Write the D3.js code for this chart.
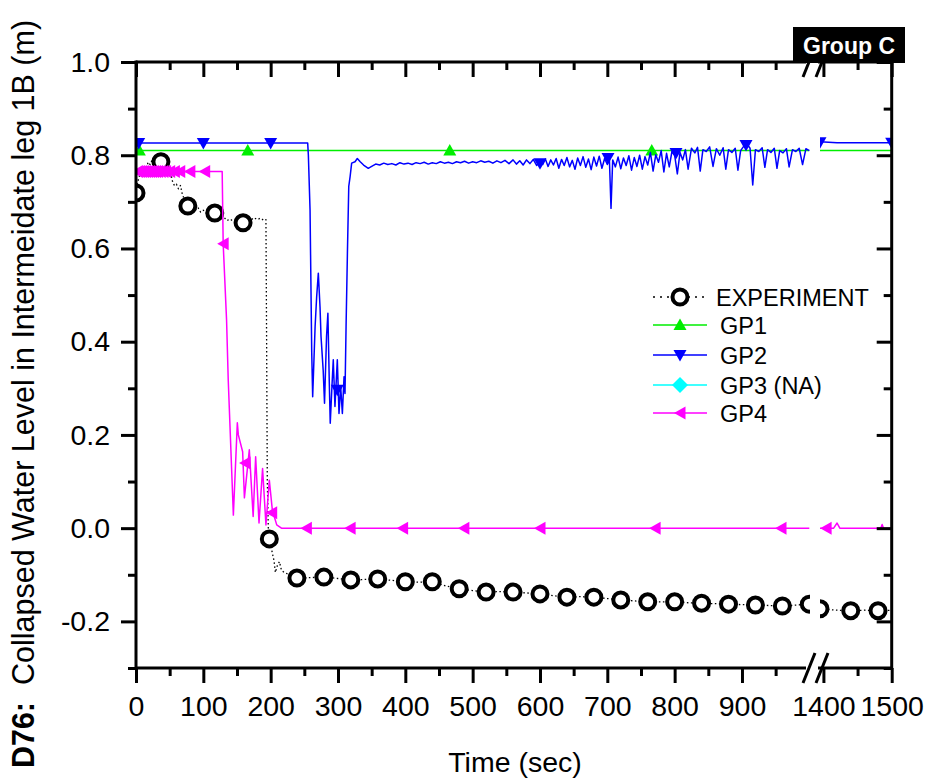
<!DOCTYPE html>
<html><head><meta charset="utf-8">
<script src="https://cdn.jsdelivr.net/npm/d3@7"></script>
<style>body{margin:0;background:#fff} svg{display:block}</style>
</head><body><svg id="c" width="932" height="784"></svg>
<script>
// ---------------- DATA ----------------
const xMajorTicks = [0,100,200,300,400,500,600,700,800,900,1400,1500];
const xMinorTicks = [50,150,250,350,450,550,650,750,850,950,1450];
const yMajorTicks = [-0.2,0.0,0.2,0.4,0.6,0.8,1.0];
const yMinorTicks = [-0.3,-0.1,0.1,0.3,0.5,0.7,0.9];
const seriesNames = ["EXPERIMENT","GP1","GP2","GP3 (NA)","GP4"];

// EXPERIMENT (dotted line + circles)
const expT = [0,3,6,9,12,15,18,21,24,27,30,33,36,39,42,45,48,51,54,57,60,63,66,69,72,76,80,84,88,92,96,100,105,110,115,120,125,130,135,140,145,150,155,160,165,170,175,180,185,190,193,194,195,196.5,198,202,205,207,210,213,216,220,225,230,240,260,280,300,320,340,360,380,400,420,440,460,480,500,520,540,560,580,600,620,640,660,680,700,720,740,760,780,800,820,840,860,880,900,920,940,960,980,1000,
  1395,1420,1440,1460,1480,1500];
const expV = [0.72,0.745,0.76,0.755,0.775,0.77,0.785,0.78,0.79,0.785,0.792,0.783,0.788,0.78,0.786,0.775,0.778,0.765,0.745,0.735,0.738,0.728,0.735,0.715,0.705,0.695,0.69,0.692,0.683,0.688,0.678,0.682,0.675,0.672,0.678,0.67,0.664,0.668,0.66,0.663,0.657,0.66,0.655,0.657,0.662,0.66,0.666,0.662,0.665,0.66,0.662,0.40,0.10,0.0,-0.023,-0.05,-0.07,-0.095,-0.08,-0.072,-0.09,-0.095,-0.098,-0.104,-0.107,-0.106,-0.105,-0.108,-0.111,-0.110,-0.109,-0.112,-0.115,-0.116,-0.115,-0.124,-0.130,-0.134,-0.137,-0.136,-0.137,-0.139,-0.141,-0.145,-0.148,-0.147,-0.148,-0.151,-0.154,-0.156,-0.158,-0.158,-0.158,-0.160,-0.161,-0.162,-0.163,-0.164,-0.165,-0.166,-0.167,-0.165,-0.163,
  -0.173,-0.176,-0.177,-0.176,-0.177,-0.176];
const expMarkT = [0,37,77,117,159,198,239,279,319,359,400,440,480,520,560,600,640,680,720,760,800,840,880,920,960,1000,1395,1440,1480];
const expMarkV = [0.719,0.786,0.691,0.676,0.655,-0.023,-0.107,-0.105,-0.111,-0.109,-0.115,-0.115,-0.130,-0.137,-0.137,-0.141,-0.148,-0.148,-0.154,-0.158,-0.158,-0.161,-0.163,-0.165,-0.167,-0.163,-0.173,-0.177,-0.177];

// GP1
const gp1T = [0,1000,1395,1500];
const gp1V = [0.81,0.81,0.81,0.81];
const gp1MarkT = [5,166,466,766];
const gp1MarkV = [0.81,0.81,0.81,0.81];

// GP2
const gp2T = [0,255,256,258.5,261,262.4,266,268.3,270.8,273.3,274.8,278,280,283,285,287,288.5,291,293,295.5,299,301.5,304,306.5,309,310.4,312,314,316,318,320.3,325.3,328.7,333,338,345,
  350,356,362,368,374,380,386,392,398,404,410,416,422,428,434,440,446,452,458,464,470,476,482,488,494,500,506,512,518,524,530,536,542,548,554,560,565,570,575,580,585,590,595,600,
  604,608,612,616,620,624,628,632,636,640,644,648,652,656,660,664,668,672,676,680,684,688,692,696,700,703,705.5,708,712,716,720,724,728,732,736,740,744,748,752,756,760,764,768,772,776,780,784,788,792,796,800,
  804,808,812,816,820,825,830,834,838,842,847,852,857,862,867,872,876,880,885,890,894,898,903,908,912,916,920,925,930,934,938,943,948,952,956,961,966,970,975,980,985,990,995,1000,
  1395,1420,1500];
const gp2V = [0.826,0.826,0.80,0.683,0.376,0.282,0.432,0.496,0.547,0.475,0.411,0.339,0.268,0.411,0.461,0.318,0.225,0.303,0.361,0.261,0.361,0.246,0.303,0.246,0.325,0.289,0.432,0.59,0.733,0.754,0.783,0.786,0.793,0.786,0.779,0.772,
  0.776,0.781,0.779,0.783,0.780,0.782,0.779,0.784,0.781,0.783,0.780,0.784,0.782,0.785,0.781,0.784,0.782,0.786,0.783,0.785,0.782,0.786,0.784,0.787,0.783,0.786,0.784,0.788,0.785,0.787,0.783,0.788,0.784,0.789,0.782,0.790,0.781,0.788,0.779,0.790,0.782,0.791,0.778,0.787,
  0.780,0.792,0.776,0.790,0.779,0.793,0.772,0.791,0.778,0.795,0.775,0.789,0.770,0.794,0.778,0.797,0.774,0.792,0.769,0.796,0.777,0.798,0.772,0.793,0.780,0.795,0.686,0.790,0.775,0.796,0.771,0.794,0.778,0.799,0.768,0.795,0.776,0.800,0.770,0.797,0.779,0.806,0.766,0.801,0.785,0.810,0.764,0.804,0.775,0.808,0.800,
  0.760,0.806,0.790,0.812,0.770,0.815,0.805,0.817,0.766,0.812,0.808,0.818,0.776,0.814,0.800,0.816,0.770,0.812,0.806,0.815,0.768,0.810,0.820,0.823,0.815,0.736,0.812,0.808,0.816,0.774,0.812,0.806,0.815,0.772,0.810,0.805,0.814,0.775,0.812,0.808,0.815,0.780,0.814,0.810,
  0.829,0.827,0.827];
const gp2MarkT = [4,100,200,299,600,701,802,906,1395,1500];
const gp2MarkV = [0.826,0.826,0.826,0.297,0.783,0.794,0.805,0.822,0.828,0.827];

// GP4
const gp4T = [0,128,129.5,134.5,137,144.6,150.5,152,158.4,161,168.3,174,177.7,182.7,188,193,198,202.5,209,216,1000,
  1395,1415,1420,1424,1484,1486,1488,1500];
const gp4V = [0.765,0.765,0.61,0.447,0.318,0.028,0.226,0.20,0.164,0.065,0.168,0.025,0.153,0.011,0.128,0.007,0.103,0.039,0.007,0.0,0.0,
  0.0,0.0,0.011,0.0,0.0,0.008,0.0,0.0];
const gp4MarkT = [2,5,8,11,14,17,20,23,26,29,32,36,40,44,50,57,65,80,102,129.5,162,201.5,253,318,396,487,600,771,958,1404];
const gp4MarkV = [0.765,0.765,0.765,0.765,0.765,0.765,0.765,0.765,0.765,0.765,0.765,0.765,0.765,0.765,0.765,0.765,0.765,0.765,0.765,0.61,0.14,0.033,0,0,0,0,0,0,0,0];

// ---------------- CHART ----------------
const FONT = '"Liberation Sans", Arial, Helvetica, sans-serif';
const svg = d3.select("#c");
const L = 136, R = 891.7, T = 62, B = 668;
const brkA = 809.3, brkB = 820;
const x = d3.scaleLinear().domain([0,1000,1395,1500]).range([L,brkA,brkB,R]);
const y = d3.scaleLinear().domain([-0.3,1.0]).range([B,T]);

const defs = svg.append("defs");
defs.append("clipPath").attr("id","seg1").append("rect").attr("x",L).attr("y",T-10).attr("width",810-L).attr("height",B-T+20);
defs.append("clipPath").attr("id","seg2").append("rect").attr("x",brkB).attr("y",T-10).attr("width",R-brkB).attr("height",B-T+20);

const zip = (a,b) => a.map((t,i)=>[t,b[i]]);
const line = d3.line().x(d=>x(d[0])).y(d=>y(d[1]));

function sym(type, cx, cy){
  switch(type){
    case "up": return `M${cx-6.5},${cy+5}L${cx+6.5},${cy+5}L${cx},${cy-6.5}Z`;
    case "down": return `M${cx-6.5},${cy-5}L${cx+6.5},${cy-5}L${cx},${cy+6.5}Z`;
    case "left": return `M${cx+5.5},${cy-6.5}L${cx+5.5},${cy+6.5}L${cx-6},${cy}Z`;
    case "diamond": return `M${cx},${cy-8}L${cx+8},${cy}L${cx},${cy+8}L${cx-8},${cy}Z`;
  }
}

const series = [
  {pts: zip(expT,expV), marks: zip(expMarkT,expMarkV), color:"#000", width:1.3, dash:"1.5,2.5", sym:"circle"},
  {pts: zip(gp1T,gp1V), marks: zip(gp1MarkT,gp1MarkV), color:"#00ee00", width:1.4, sym:"up"},
  {pts: zip(gp2T,gp2V), marks: zip(gp2MarkT,gp2MarkV), color:"#0000ff", width:1.5, sym:"down"},
  {pts: zip(gp4T,gp4V), marks: zip(gp4MarkT,gp4MarkV), color:"#ff00ff", width:1.5, sym:"left"}
];

[["seg1", d=>d[0]<=1000],["seg2", d=>d[0]>=1395]].forEach(([clip, f])=>{
  const g = svg.append("g").attr("clip-path",`url(#${clip})`);
  series.forEach(s=>{
    g.append("path").attr("d", line(s.pts.filter(f))).attr("fill","none")
      .attr("stroke", s.color).attr("stroke-width", s.width)
      .attr("stroke-dasharray", s.dash || null).attr("stroke-linejoin","round");
    const m = s.marks.filter(f);
    if(s.sym==="circle"){
      g.selectAll(null).data(m).enter().append("circle")
        .attr("cx",d=>x(d[0])).attr("cy",d=>y(d[1])).attr("r",7.5)
        .attr("fill","#fff").attr("stroke","#000").attr("stroke-width",4);
    } else {
      g.selectAll(null).data(m).enter().append("path")
        .attr("d",d=>sym(s.sym, x(d[0]), y(d[1]))).attr("fill", s.color);
    }
  });
});

// ---------------- AXES ----------------
function styleAxis(g, size){
  g.select(".domain").remove();
  g.selectAll("line").attr("stroke","#000").attr("stroke-width",3);
  g.selectAll("text").attr("font-family",FONT).attr("font-size",size).attr("fill","#000");
}
// bottom
const gb = svg.append("g").attr("transform",`translate(0,${B})`)
  .call(d3.axisBottom(x).tickValues(xMajorTicks).tickSize(15).tickPadding(13).tickFormat(d=>String(d)));
styleAxis(gb, 28.5);
const gbm = svg.append("g").attr("transform",`translate(0,${B})`)
  .call(d3.axisBottom(x).tickValues(xMinorTicks).tickSize(8).tickFormat(""));
styleAxis(gbm, 28);
// top (inward ticks)
const gt = svg.append("g").attr("transform",`translate(0,${T})`)
  .call(d3.axisBottom(x).tickValues(xMajorTicks).tickSize(15).tickFormat(""));
styleAxis(gt, 28);
const gtm = svg.append("g").attr("transform",`translate(0,${T})`)
  .call(d3.axisBottom(x).tickValues(xMinorTicks).tickSize(8).tickFormat(""));
styleAxis(gtm, 28);
// left
const gl = svg.append("g").attr("transform",`translate(${L},0)`)
  .call(d3.axisLeft(y).tickValues(yMajorTicks).tickSize(15).tickPadding(11).tickFormat(d=>d.toFixed(1)));
styleAxis(gl, 28.5);
const glm = svg.append("g").attr("transform",`translate(${L},0)`)
  .call(d3.axisLeft(y).tickValues(yMinorTicks).tickSize(8).tickFormat(""));
styleAxis(glm, 28);
// right (inward ticks)
const gr = svg.append("g").attr("transform",`translate(${R},0)`)
  .call(d3.axisLeft(y).tickValues(yMajorTicks).tickSize(15).tickFormat(""));
styleAxis(gr, 28);
const grm = svg.append("g").attr("transform",`translate(${R},0)`)
  .call(d3.axisLeft(y).tickValues(yMinorTicks).tickSize(8).tickFormat(""));
styleAxis(grm, 28);

// frame lines (broken)
const frame = svg.append("g").attr("stroke","#000").attr("stroke-width",3).attr("fill","none");
frame.append("line").attr("x1",L).attr("x2",L).attr("y1",T-1.5).attr("y2",B+1.5);
frame.append("line").attr("x1",R).attr("x2",R).attr("y1",T-1.5).attr("y2",B+1.5);
[T,B].forEach(yy=>{
  frame.append("line").attr("x1",L).attr("x2",806).attr("y1",yy).attr("y2",yy);
  frame.append("line").attr("x1",818).attr("x2",R).attr("y1",yy).attr("y2",yy);
  // break marks
  frame.append("line").attr("x1",803).attr("y1",yy+15).attr("x2",815).attr("y2",yy-15);
  frame.append("line").attr("x1",816).attr("y1",yy+15).attr("x2",828).attr("y2",yy-15);
});

// Group C box
svg.append("rect").attr("x",793).attr("y",27).attr("width",112).attr("height",36).attr("fill","#000");
svg.append("text").attr("x",849).attr("y",54).attr("text-anchor","middle")
  .attr("font-family",FONT).attr("font-size",23).attr("font-weight","bold").attr("fill","#fff").text("Group C");

// axis titles
svg.append("text").attr("x",515).attr("y",772).attr("text-anchor","middle")
  .attr("font-family",FONT).attr("font-size",28.5).text("Time (sec)");
const yl = svg.append("text").attr("transform","translate(34,394) rotate(-90)").attr("text-anchor","middle")
  .attr("font-family",FONT).attr("font-size",30.5).style("white-space","pre");
yl.append("tspan").attr("font-weight","bold").text("D76:");
yl.append("tspan").text("  Collapsed Water Level in Intermeidate leg 1B (m)");

// legend
const legY = [297,325,355,385,413];
const legSym = ["circle","up","down","diamond","left"];
const legCol = ["#000","#00ee00","#0000ff","#00ffff","#ff00ff"];
const lg = svg.append("g");
seriesNames.forEach((n,i)=>{
  const yy = legY[i];
  lg.append("line").attr("x1",653).attr("x2",707).attr("y1",yy).attr("y2",yy)
    .attr("stroke",legCol[i]).attr("stroke-width", 1.5)
    .attr("stroke-dasharray", i===0?"2,5":null);
  if(legSym[i]==="circle"){
    lg.append("circle").attr("cx",680).attr("cy",yy).attr("r",7.5).attr("fill","#fff").attr("stroke","#000").attr("stroke-width",4);
  } else {
    lg.append("path").attr("d",sym(legSym[i],680,yy)).attr("fill",legCol[i]);
  }
  lg.append("text").attr("x", i===0?716:720).attr("y",yy+8.5)
    .attr("font-family",FONT).attr("font-size",23.5).text(n);
});
</script></body></html>
